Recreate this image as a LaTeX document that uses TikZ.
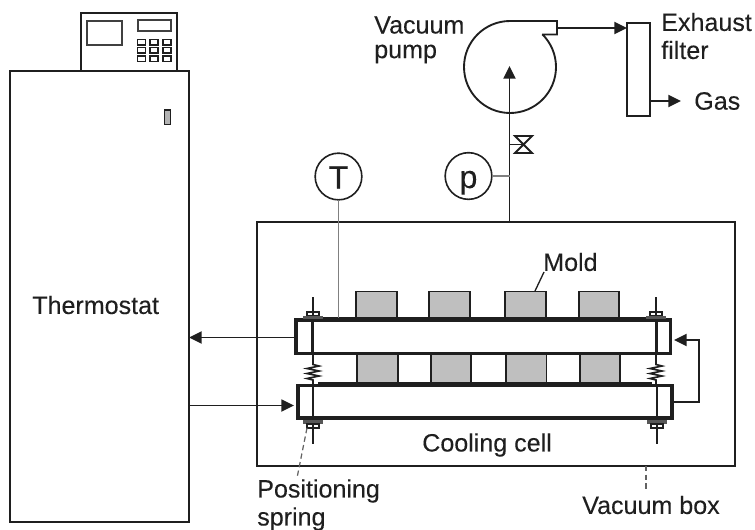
\documentclass[tikz,border=0pt]{standalone}
\usepackage{fontspec}
\setmainfont[FakeBold=0.12]{Liberation Sans}
\usetikzlibrary{arrows.meta}
\definecolor{ink}{gray}{0.12}
\definecolor{moldgray}{gray}{0.75}
\tikzset{
 x=0.75pt,y=-0.75pt,
 line/.style={draw=ink,line width=1.4pt},
 sbox/.style={rectangle,draw=ink,line width=1.4pt,inner sep=0pt,outer sep=0pt},
 plate/.style={draw=ink,line width=2.8pt},
 face/.style={draw=ink,line width=4pt},
 flow/.style={draw=ink,line width=1.4pt,-{Triangle[length=9.5pt,width=9pt]}},
 lead/.style={draw=ink!70,line width=0.9pt,dash pattern=on 4pt off 2.5pt},
 label/.style={font=\fontsize{18.8pt}{22pt}\selectfont,text=ink,inner sep=0pt,align=left,anchor=west},
 gauge/.style={circle,draw=ink,line width=1.2pt,minimum size=35pt,inner sep=0pt,outer sep=0pt,font=\fontsize{24pt}{24pt}\selectfont,text=ink,text height=18pt,text depth=0pt},
 probe/.style={draw=black!50,line width=1.1pt},
}
\begin{document}
\begin{tikzpicture}
\useasboundingbox (0,0) rectangle (755,529);
% thermostat
\node[sbox,minimum width=134.25pt,minimum height=338.25pt] (thermostat) at (99.5,296.5) {};
\node[sbox,minimum width=72pt,minimum height=43.5pt] (panel) at (129,42) {};
\draw[draw=ink!85,line width=1.5pt] (87,21) rectangle (122,45);
\draw[draw=ink!85,line width=1.5pt] (138,20) rectangle (170.5,31);
\foreach \kx in {137.5,150,163} \foreach \ky in {39.5,47.5,56}
  \draw[draw=ink,line width=1.4pt] (\kx,\ky) rectangle ++(8,5.5);
\draw[draw=ink,line width=1.1pt,fill=gray!60] (164.5,110) rectangle (170.5,124.5);
\node[label] (thermotext) at (32,305) {Thermostat};
% vacuum box
\node[sbox,minimum width=358.5pt,minimum height=183pt] (vacbox) at (496,344) {};
% molds
\foreach \a/\b in {356/397,429/470,505/546,579/619} \draw[draw=ink,line width=1pt,fill=moldgray] (\a,319) -- (\a,291.5) -- (\b,291.5) -- (\b,319);
\foreach \a/\b in {357/398,431/471,506/546.5,580/620} {
  \fill[moldgray] (\a,354) rectangle (\b,384);
  \draw[draw=ink,line width=1.1pt] (\a,354) -- (\a,384) (\b,354) -- (\b,384);
}
% plates
\draw[plate] (296,320) rectangle (670.5,353.5);
\draw[plate] (298,385.5) rectangle (672,418);
\draw[face] (312,319.5) -- (657,319.5);
\draw[face] (318,384.5) -- (652,384.5);
\draw[plate,line width=2pt] (312.5,320) -- (312.5,353) (313,385) -- (313,418);
\draw[plate,line width=2pt] (656.5,320) -- (656.5,353) (657,385) -- (657,418);
% bolts and springs
\foreach \bx/\cx in {313/313,656/657} {
  \draw[line,line width=1.1pt] (\bx,297) -- (\bx,318);
  \fill[ink!75] (\bx-10,315.5) rectangle (\bx+10,319);
  \draw[draw=ink,line width=1.3pt] (\bx-6,312) rectangle (\bx+6,315.5);
  \draw[line,line width=1.3pt] (\cx,420) -- (\cx,444);
  \fill[ink!75] (\cx-10,420) rectangle (\cx+10,424);
  \draw[draw=ink,line width=1.3pt] (\cx-6,424) rectangle (\cx+6,428);
  \draw[draw=ink,line width=1.25pt] (\bx,354) -- (\bx,364.5) -- (\bx+6,366) -- (\bx-6,368.5) -- (\bx+6,371) -- (\bx-6,373.5) -- (\bx+6,376) -- (\bx-6,378.5) -- (\bx,380) -- (\bx,385);
}
% pump
\draw[line] (542,34.5) -- (557,34.5) -- (557,21) -- (510,21)
  arc[start angle=-90,end angle=-405.4,radius=46];
\coordinate (pumpout) at (557,28);
\coordinate (pumpin) at (509.5,66);
\coordinate (boxtop) at (509.5,222);
% valve
\coordinate (valve) at (523.5,144.5);
\draw[line] (515,136) -- (532,136) -- (515,153) -- (532,153) -- cycle;
\draw[line] (509.5,144.5) -- (valve);
% filter
\node[sbox,minimum width=17.25pt,minimum height=69.75pt] (filter) at (638.5,69.5) {};
\coordinate (gas) at (681,101);
% connectors
\draw[flow] (boxtop) -- (pumpin);
\draw[flow] (pumpout) -- (pumpout -| filter.west);
\draw[flow] (gas -| filter.east) -- (gas);
% gauges
\node[gauge] (T) at (338.5,176.5) {T};
\node[gauge] (p) at (468.5,176) {p};
\draw[probe] (T.south) -- (T.south |- vacbox.north) -- ++(0,96);
\draw[probe] (p.east) -- (p.east -| boxtop);
% coolant
\coordinate (retA) at (294,337.5);
\coordinate (supA) at (294,405.5);
\coordinate (loopB) at (674,402);
\coordinate (loopT) at (674,340);
\draw[flow] (retA) -- (retA -| thermostat.east);
\draw[flow] (supA -| thermostat.east) -- (supA);
\draw[flow] (loopB) -- (699,402) -- (699,340) -- (loopT);
% leaders
\coordinate (moldA) at (535,291);
\coordinate (moldB) at (544,272);
\draw[line,line width=1pt] (moldA) -- (moldB);
\coordinate (springA) at (307,428);
\coordinate (springB) at (297,478);
\draw[lead] (springA) -- (springB);
\coordinate (vacB) at (646,490);
\draw[lead] (vacB |- vacbox.south) -- (vacB);
% labels
\node[label] (vp1) at (374,25) {Vacuum};
\node[label] (vp2) at (374,54) {pump};
\node[label] (ef1) at (661,22) {Exhaust};
\node[label] (ef2) at (661,50) {filter};
\node[label] (gastext) at (694,101) {Gas};
\node[label] (moldtext) at (543,262) {Mold};
\node[label] (cell) at (422,445) {Cooling cell};
\node[label] (pos1) at (257,491) {Positioning};
\node[label] (pos2) at (257,519) {spring};
\node[label] (vbtext) at (582,505) {Vacuum box};
\end{tikzpicture}
\end{document}
